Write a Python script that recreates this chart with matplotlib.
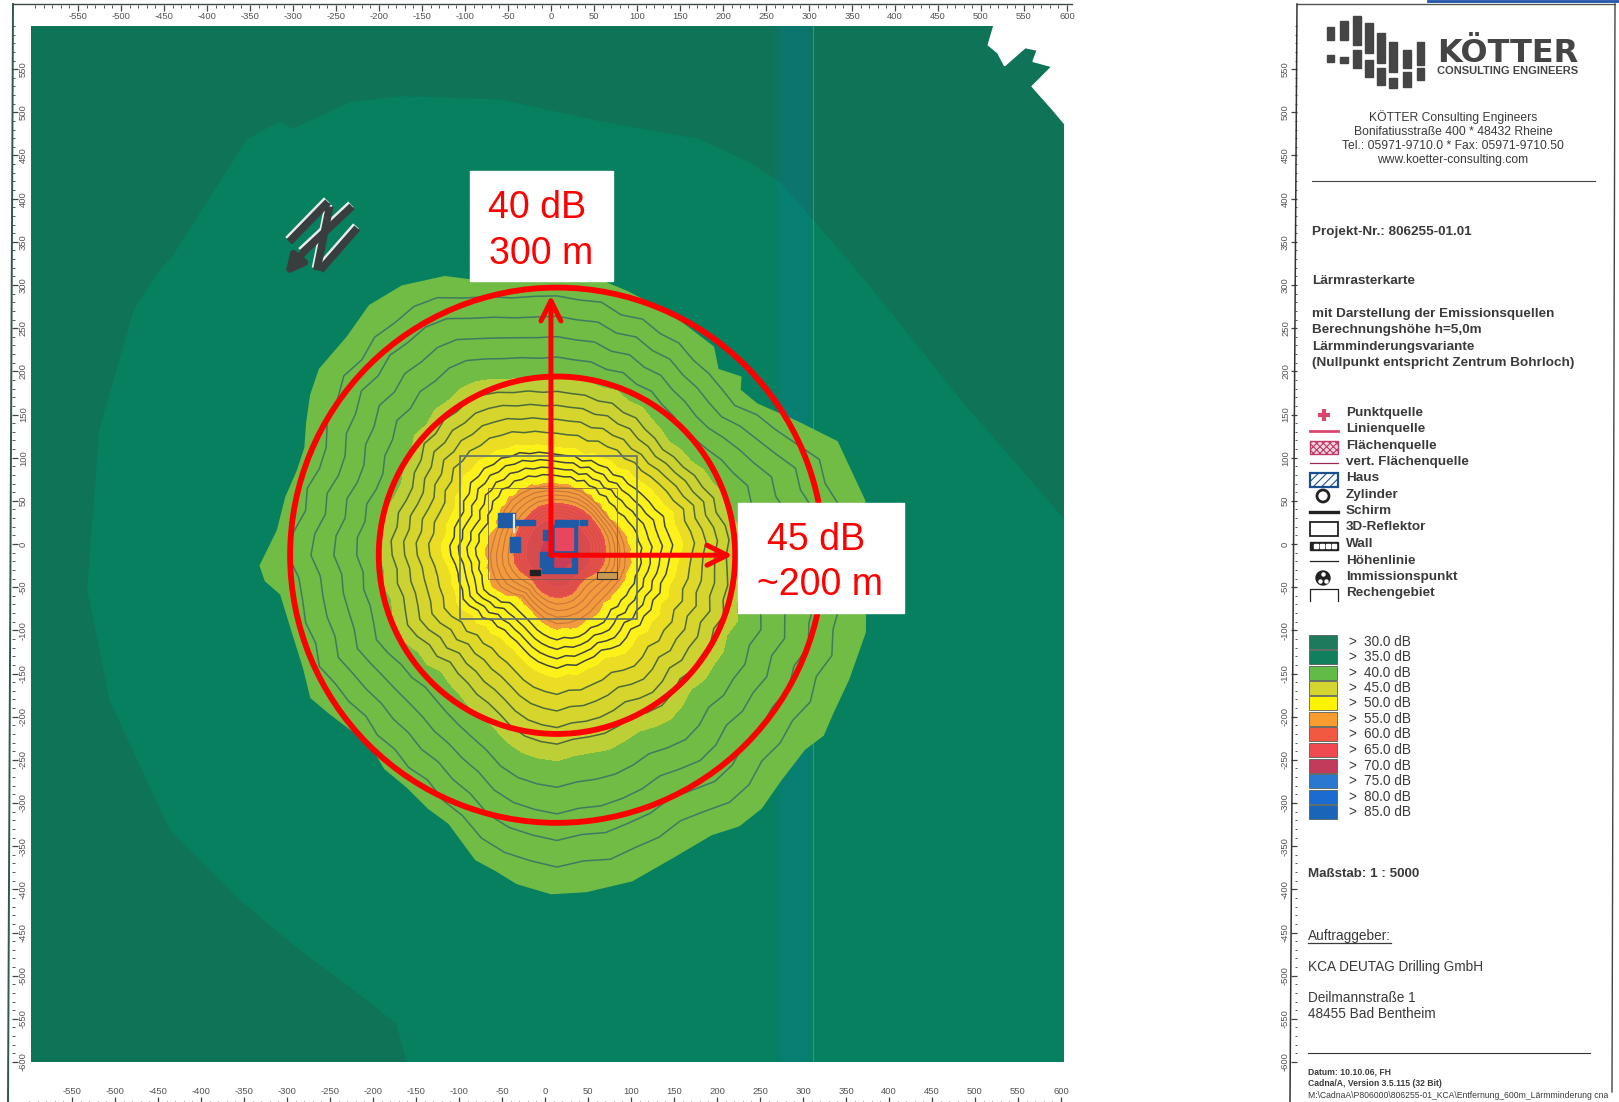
"""
Noise grid map (Laermrasterkarte) with the Koetter title panel on the right.
"""
import matplotlib
matplotlib.use('Agg')
import matplotlib.pyplot as plt
import numpy as np
from matplotlib.patches import Circle, Polygon, Rectangle

plt.rcParams['font.family'] = 'Liberation Sans'
plt.rcParams['axes.unicode_minus'] = False
plt.rcParams['hatch.linewidth'] = 0.8

W, H = 1619, 1102

# level radii around the source, metres, one value every 5 degrees (0 = east, ccw)
fine_angles = [i * 5 for i in range(72)]
r40 = [362, 358, 363, 352, 354, 333, 316, 307, 290, 293, 296, 297, 305, 305, 313, 310, 321, 320,
       324, 325, 326, 335, 342, 356, 360, 356, 357, 347, 350, 338, 334, 320, 317, 324, 320, 332,
       339, 326, 324, 328, 322, 329, 321, 320, 313, 321, 318, 326, 325, 340, 348, 368, 379, 385,
       392, 386, 389, 380, 377, 368, 371, 379, 377, 366, 367, 362, 369, 361, 369, 361, 363, 356]
r45 = [210, 214, 212, 204, 206, 199, 197, 190, 189, 185, 189, 192, 198, 197, 203, 201, 204, 204,
       206, 205, 209, 211, 217, 222, 223, 219, 220, 214, 216, 207, 205, 199, 200, 205, 203, 208,
       206, 201, 204, 199, 203, 207, 203, 196, 197, 190, 194, 197, 203, 206, 213, 224, 232, 236,
       238, 233, 232, 233, 229, 225, 229, 231, 227, 220, 224, 222, 223, 218, 223, 216, 217, 213]
r50 = [143, 147, 144, 141, 144, 137, 135, 133, 130, 127, 128, 123, 126, 124, 125, 121, 125, 124,
       125, 127, 130, 131, 136, 136, 140, 139, 142, 140, 142, 135, 136, 130, 131, 133, 131, 135,
       133, 128, 125, 127, 125, 129, 126, 120, 122, 116, 118, 115, 118, 120, 125, 131, 136, 139,
       142, 138, 140, 136, 135, 131, 135, 138, 136, 132, 137, 134, 137, 133, 138, 135, 139, 140]
r55 = [85, 87, 84, 85, 82, 80, 79, 75, 77, 76, 79, 77, 81, 80, 84, 81, 84, 83,
       84, 85, 86, 85, 88, 87, 89, 86, 89, 85, 86, 82, 82, 78, 81, 84, 82, 85,
       84, 81, 84, 81, 84, 85, 82, 78, 75, 68, 67, 69, 70, 72, 75, 79, 82, 85,
       87, 85, 87, 88, 86, 83, 84, 84, 81, 78, 81, 80, 82, 83, 85, 84, 86, 88]

# inner levels, one value every 10 degrees
angles = [0, 10, 20, 30, 40, 50, 60, 70, 80, 90, 100, 110, 120, 130, 140, 150, 160, 170,
          180, 190, 200, 210, 220, 230, 240, 250, 260, 270, 280, 290, 300, 310, 320, 330, 340, 350]
r55_inner = [85, 84, 82, 79, 77, 79, 81, 84, 84, 84, 86, 88, 89, 89, 86, 82, 81, 82,
             84, 84, 84, 82, 75, 67, 70, 75, 82, 87, 87, 86, 84, 81, 81, 82, 85, 86]
r60 = [56, 57, 58, 58, 58, 59, 60, 60, 60, 60, 60, 60, 58, 56, 55, 53, 52, 50,
       50, 50, 47, 44, 41, 41, 44, 46, 48, 49, 49, 48, 45, 42, 42, 46, 52, 55]
r65 = [38, 39, 40, 40, 40, 41, 42, 42, 42, 42, 41, 41, 40, 39, 38, 37, 36, 35,
       35, 35, 33, 31, 30, 30, 31, 33, 35, 36, 36, 35, 33, 31, 31, 33, 36, 38]
r70 = [20, 21, 21, 21, 22, 22, 23, 23, 23, 22, 22, 22, 21, 21, 20, 20, 19, 19,
       19, 19, 18, 17, 17, 17, 18, 18, 19, 20, 20, 19, 18, 17, 17, 18, 19, 20]
r75 = [4, 4, 4, 4, 4, 4, 4, 4, 4, 4, 4, 4, 4, 4, 4, 4, 4, 4,
       4, 4, 4, 4, 4, 4, 4, 4, 4, 4, 4, 4, 4, 4, 4, 4, 4, 4]
outer_levels = [40, 45, 50, 55]
inner_levels = [55, 60, 65, 70, 75]

# finer read of the rough outer edge of the 40 dB area
edge_angle = [5, 10, 22, 29, 37, 42, 44, 46, 49, 53, 65, 75, 80, 90, 105, 112, 120, 127, 134, 142,
              147, 152, 157, 162, 168, 175, 182, 185, 188, 196, 204, 210, 215, 221, 226, 231, 237,
              243, 248, 255, 259, 263, 269, 275, 283, 291, 299, 304, 309, 315, 322, 326, 330, 337,
              346, 352, 358]
edge_r = [362, 363, 351, 319, 291, 286, 297, 292, 285, 302, 309, 316, 321, 324, 328, 348, 360, 362,
          351, 350, 341, 329, 318, 317, 322, 326, 345, 340, 324, 320, 322, 330, 321, 312, 309, 318,
          320, 329, 335, 365, 372, 383, 392, 391, 387, 375, 370, 378, 377, 368, 365, 373, 369, 368,
          369, 362, 362]

# 35 dB area outline, metres
teal_x = [-163, -175, -229, -287, -357, -438, -508, -534, -520, -480, -450, -435, -388, -349, -311,
          -296, -229, -171, -55, 61, 177, 235, 270, 348, 398, 479, 600, 600]
teal_y = [-600, -555, -513, -470, -412, -331, -181, -53, 132, 271, 317, 333, 407, 468, 489,
          480, 511, 518, 514, 489, 468, 441, 418, 329, 268, 167, 28, -600]

# cut-out corner of the map, metres
corner_x = [522, 512, 523, 531, 555, 569, 564, 586, 563, 587, 603, 612, 612]
corner_y = [612, 578, 569, 554, 575, 572, 559, 553, 530, 503, 484, 484, 612]

# buildings around the drill site, metres
building_x = [-57, -38, -44, 5, -6, 28, -5, -9, 9, 38]
building_y = [20, 22, -9, -9, -34, -28, 5, -27, 22, 22]
building_w = [19, 23, 12, 29, 40, 6, 6, 15, 26, 8]
building_h = [16, 6, 17, 31, 6, 19, 11, 18, 6, 6]
pad_x, pad_y, pad_w, pad_h = 9, -7, 21, 26
area_x, area_y, area_w, area_h = -102, -87, 206, 189
inner_x, inner_y, inner_w, inner_h = -69, -40, 150, 105
speck_x, speck_y, speck_w, speck_h = -20, -36, 11, 6
shed_x, shed_y, shed_w, shed_h = 57, -40, 24, 8

# north arrow strokes, metres
north_x = [[-255, -300], [-227, -285], [-221, -264], [-253, -268]]
north_y = [[396, 350], [391, 337], [366, 317], [391, 317]]
north_tip_x, north_tip_y = -307, 309

circle_x, circle_y = 11, -13
circle_radii = [310, 207]
arrow_x, arrow_y = 4, -13
arrow_up_y, arrow_right_x = 288, 215

gradient_levels = [45, 46, 47, 48, 49, 50, 55]
gradient_colors = ['#bccf36', '#cbd232', '#d6d52d', '#e0d829', '#eadd23', '#fdf11a']
inner_colors = ['#f07048', '#e8504e', '#d84a52', '#c93c58']
orange = '#f19a3e'
edge_color, teal_color, base_color = '#70bc45', '#07805f', '#0f7358'

legend_values = ['30.0', '35.0', '40.0', '45.0', '50.0', '55.0', '60.0', '65.0', '70.0', '75.0', '80.0', '85.0']
legend_colors = ['#1d7a5c', '#0f7f5e', '#62bb46', '#d4d530', '#fff200', '#f99d31',
                 '#f15a40', '#ee4a50', '#c23b5b', '#2a78d0', '#1c6bd0', '#1b65b8']
symbol_labels = ['Punktquelle', 'Linienquelle', 'Flächenquelle', 'vert. Flächenquelle', 'Haus', 'Zylinder',
                 'Schirm', '3D-Reflektor', 'Wall', 'Höhenlinie', 'Immissionspunkt', 'Rechengebiet']
x_ruler_ticks = list(range(-550, 601, 50))
y_ruler_ticks = list(range(-600, 551, 50))
ruler_minor = list(range(-600, 601, 10))
logo_segments = [(110, 80, 120), (110, 165, 185), (150, 62, 120), (150, 170, 190),
                 (190, 48, 135), (190, 150, 205), (225, 70, 160), (225, 180, 230),
                 (262, 100, 190), (262, 205, 255), (298, 125, 215), (298, 235, 265),
                 (340, 150, 205), (340, 215, 262), (380, 125, 195), (380, 205, 240)]


def px_axes(fig, x0, y0, x1, y1, **kw):
    # axes from pixel box, y measured from the top of the picture
    return fig.add_axes([x0 / W, 1 - y1 / H, (x1 - x0) / W, (y1 - y0) / H], **kw)


def closed_polar(theta_deg, radii):
    a = np.radians(list(theta_deg) + [theta_deg[0] + 360])
    r = np.array(list(radii) + [radii[0]], dtype=float)
    return circle_x + r * np.cos(a), circle_y + r * np.sin(a)


def polar_mesh(theta_deg, rows, levels):
    rows = np.array(rows, dtype=float)
    rows = np.column_stack([rows, rows[:, 0]])
    a = np.radians(list(theta_deg) + [360])
    X = circle_x + rows * np.cos(a)
    Y = circle_y + rows * np.sin(a)
    Z = np.repeat(np.array(levels, dtype=float)[:, None], len(a), axis=1)
    return X, Y, Z


def draw_map(fig):
    ax = px_axes(fig, 31, 26, 1064, 1062)
    ax.set_xlim(-600, 600)
    ax.set_ylim(-600, 600)
    ax.axis('off')
    ax.add_patch(Rectangle((-600, -600), 1200, 1200, color=base_color, zorder=0))
    ax.add_patch(Polygon(np.column_stack([teal_x, teal_y]), color=teal_color, zorder=1))
    # crease of the scanned sheet
    for x0, x1 in [(262, 310), (268, 306), (274, 300)]:
        ax.axvspan(x0, x1, color='#0b7f92', alpha=0.16, lw=0, zorder=1.5)
    ax.axvline(309, color='#6fb3a0', lw=0.8, alpha=0.45, zorder=1.6)

    ex, ey = closed_polar(edge_angle, edge_r)
    ax.fill(ex, ey, color=edge_color, zorder=2)

    ox, oy = closed_polar(fine_angles, r55)
    ax.fill(ox, oy, color=orange, zorder=3)
    X, Y, Z = polar_mesh(fine_angles, [r40, r45, r50, r55], outer_levels)
    ax.contourf(X, Y, Z, levels=gradient_levels, colors=gradient_colors, zorder=3.1)
    IX, IY, IZ = polar_mesh(angles, [r55_inner, r60, r65, r70, r75], inner_levels)
    ax.contourf(IX, IY, IZ, levels=[60, 65, 70, 75], colors=inner_colors[1:], zorder=3.2)
    ax.contour(X, Y, Z, levels=[41, 42, 43, 44], colors='#3f7a62', linewidths=1.1, zorder=4)
    ax.contour(X, Y, Z, levels=[46, 47, 48, 49], colors='#4c6a3c', linewidths=1.1, zorder=4)
    ax.contour(X, Y, Z, levels=[51, 52, 53, 54], colors='#3f4440', linewidths=1.1, zorder=4)
    ax.contour(IX, IY, IZ, levels=[56, 57, 58, 59], colors='#c8763a', linewidths=0.8, zorder=4)
    ax.contour(IX, IY, IZ, levels=[61, 62, 63, 64, 66, 67, 68, 69], colors='#d24e42', linewidths=0.6, zorder=4)

    ax.add_patch(Rectangle((area_x, area_y), area_w, area_h, fill=False, ec='#5f6f70', lw=1.2, zorder=5))
    ax.add_patch(Rectangle((inner_x, inner_y), inner_w, inner_h, fill=False, ec='#6a5a50', lw=0.5, zorder=5))
    for x, y, w, h in zip(building_x, building_y, building_w, building_h):
        ax.add_patch(Rectangle((x, y), w, h, color='#1f5aa6', zorder=6))
    ax.add_patch(Rectangle((pad_x, pad_y), pad_w, pad_h, color='#e8465f', zorder=7))
    ax.add_patch(Rectangle((speck_x, speck_y), speck_w, speck_h, color='#222222', zorder=7))
    ax.add_patch(Rectangle((shed_x, shed_y), shed_w, shed_h, fc='#c89a50', ec='#333333', lw=0.8, zorder=7))
    ax.plot([-39, -39], [14, 34], color='#dfe8f0', lw=1.6, zorder=7)

    ax.add_patch(Polygon(np.column_stack([corner_x, corner_y]), color='white', zorder=8, clip_on=False))

    # north arrow
    for sx, sy in zip(north_x, north_y):
        ax.plot(np.array(sx) - 1.5, np.array(sy) + 2.5, color='#e8eeee', lw=5.5, solid_capstyle='butt', zorder=8)
    for sx, sy in zip(north_x, north_y):
        ax.plot(sx, sy, color='#3a3d3d', lw=5.5, solid_capstyle='butt', zorder=9)
    ax.annotate('', xy=(north_tip_x, north_tip_y), xytext=(north_x[1][1] + 6, north_y[1][1] + 6),
                arrowprops=dict(arrowstyle='-|>', color='#3a3d3d', lw=5, mutation_scale=26), zorder=9)

    # red overlay
    for radius in circle_radii:
        ax.add_patch(Circle((circle_x, circle_y), radius, fill=False, ec='#ff0000', lw=4.2, zorder=10))
    ax.annotate('', xy=(arrow_x, arrow_up_y), xytext=(arrow_x, arrow_y),
                arrowprops=dict(arrowstyle='->', color='#ff0000', lw=3.6, mutation_scale=36,
                                shrinkA=0, shrinkB=0), zorder=11)
    ax.annotate('', xy=(arrow_right_x, arrow_y), xytext=(arrow_x, arrow_y),
                arrowprops=dict(arrowstyle='->', color='#ff0000', lw=3.6, mutation_scale=36,
                                shrinkA=0, shrinkB=0), zorder=11)


def style_ruler(ax, axis, side, rotation=0):
    ax.patch.set_visible(False)
    for s in ax.spines.values():
        s.set_visible(False)
    if axis == 'x':
        ax.set_xlim(-600, 600)
        ax.set_xticks(x_ruler_ticks)
        ax.set_xticks(ruler_minor, minor=True)
        ax.set_yticks([])
    else:
        ax.set_ylim(-600, 600)
        ax.set_yticks(y_ruler_ticks)
        ax.set_yticks(ruler_minor, minor=True)
        ax.set_xticks([])
    target = ax.xaxis if axis == 'x' else ax.yaxis
    target.set_ticks_position(side)
    target.set_label_position(side)
    ax.tick_params(axis=axis, which='major', length=4, width=0.9, pad=1, labelsize=6.8,
                   color='#444444', labelcolor='#555555', labelrotation=rotation)
    ax.tick_params(axis=axis, which='minor', length=1.8, width=0.7, color='#555555')
    if axis == 'y':
        for t in ax.get_yticklabels():
            t.set_verticalalignment('center')


def draw_rulers(fig):
    style_ruler(px_axes(fig, 35, 4, 1067, 5), 'x', 'bottom')
    style_ruler(px_axes(fig, 29, 1103, 1061, 1104), 'x', 'top')
    style_ruler(px_axes(fig, 11, 26, 12, 1062), 'y', 'right', rotation=90)
    style_ruler(px_axes(fig, 1297, 26, 1298, 1062), 'y', 'left', rotation=90)


def draw_panel(ov):
    # frame lines of the sheet
    ov.plot([1428, 1619], [1, 1], color='#2255aa', lw=2)
    ov.plot([13, 1072], [4, 4], color='#3c4a48', lw=1)
    ov.plot([13, 8], [4, 1102], color='#2c5a50', lw=1.4)
    ov.plot([1297, 1615], [4, 4], color='#555555', lw=1)
    ov.plot([1297, 1290], [4, 1102], color='#333333', lw=1.1)
    ov.plot([1615, 1612], [4, 1092], color='#444444', lw=1)

    for x, y0, y1 in logo_segments:
        ov.add_patch(Rectangle((1290 + x / 3, y0 / 3), 7.5, (y1 - y0) / 3, color='#454545'))
    ov.text(1437, 53, 'KÖTTER', family='DejaVu Sans', fontsize=23, fontweight='bold',
            color='#454545', va='center')
    ov.text(1437, 71, 'CONSULTING ENGINEERS', fontsize=8, fontweight='bold', color='#454545', va='center')

    tc = '#3a3a3a'
    for y, s in zip([117, 132, 146, 160], ['KÖTTER Consulting Engineers', 'Bonifatiusstraße 400 * 48432 Rheine',
                                           'Tel.: 05971-9710.0 * Fax: 05971-9710.50', 'www.koetter-consulting.com']):
        ov.text(1453, y, s, fontsize=8.7, color=tc, ha='center', va='center')
    ov.plot([1312, 1595], [181, 181], color='#444444', lw=0.8)

    for y, s in zip([232, 281, 314, 330, 347, 363],
                    ['Projekt-Nr.: 806255-01.01', 'Lärmrasterkarte', 'mit Darstellung der Emissionsquellen',
                     'Berechnungshöhe h=5,0m', 'Lärmminderungsvariante', '(Nullpunkt entspricht Zentrum Bohrloch)']):
        ov.text(1312, y, s, fontsize=9.7, fontweight='bold', color=tc, va='center')

    ys = [413, 429, 446, 462, 478, 495, 511, 527, 544, 561, 577, 593]
    for y, s in zip(ys, symbol_labels):
        ov.text(1346, y, s, fontsize=9.7, fontweight='bold', color=tc, va='center')

    pink, dark = '#d9476e', '#222222'
    ov.plot([1324], [415], marker='+', color=pink, ms=8, mew=3)
    ov.plot([1310, 1338], [431, 431], color=pink, lw=2)
    ov.add_patch(Rectangle((1310, 441), 28, 13, fc='#f3d5dc', ec='#c0396b', hatch='xxxxx', lw=1))
    ov.plot([1310, 1338], [463, 463], color='#9b2a4f', lw=0.9)
    ov.add_patch(Rectangle((1310, 473), 28, 14, fc='white', ec='#1a4f8f', hatch='////', lw=1.6))
    ov.add_patch(Circle((1323, 496), 6, fill=False, ec=dark, lw=2))
    ov.plot([1310, 1338], [512, 512], color=dark, lw=2.4)
    ov.add_patch(Rectangle((1310, 522), 28, 14, fill=False, ec=dark, lw=1.3))
    ov.add_patch(Rectangle((1310, 542), 28, 8, color=dark))
    ov.plot([1316, 1322, 1328, 1334], [546, 546, 546, 546], ls='', marker='s', ms=2.3, color='white')
    ov.plot([1310, 1338], [561, 561], color=dark, lw=0.9)
    ov.add_patch(Circle((1323, 578), 7, color=dark))
    ov.plot([1323, 1320, 1326], [574, 581, 581], ls='', marker='o', ms=2.2, color='white')
    ov.plot([1310, 1310, 1338, 1338], [601, 589, 589, 601], color=dark, lw=0.9)

    ys = [642, 657, 673, 688, 703, 719, 734, 750, 766, 781, 797, 812]
    for y, val, c in zip(ys, legend_values, legend_colors):
        ov.add_patch(Rectangle((1309, y - 7), 28, 14, fc=c, ec='#55605a', lw=0.6))
        ov.text(1348, y, '>', fontsize=9.8, color=tc, va='center')
        ov.text(1364, y, f'{val} dB', fontsize=9.8, color=tc, va='center')

    ov.text(1308, 874, 'Maßstab: 1 : 5000', fontsize=9.6, fontweight='bold', color=tc, va='center')
    ov.text(1308, 936, 'Auftraggeber:', fontsize=9.8, color=tc, va='center')
    ov.plot([1308, 1391], [943, 943], color=tc, lw=0.9)
    ov.text(1308, 967, 'KCA DEUTAG Drilling GmbH', fontsize=9.8, color=tc, va='center')
    ov.text(1308, 998, 'Deilmannstraße 1', fontsize=9.8, color=tc, va='center')
    ov.text(1308, 1014, '48455 Bad Bentheim', fontsize=9.8, color=tc, va='center')
    ov.plot([1308, 1590], [1053, 1053], color='#333333', lw=0.8)
    ov.text(1308, 1072, 'Datum: 10.10.06, FH', fontsize=6.2, fontweight='bold', color=tc, va='center')
    ov.text(1308, 1084, 'Cadna/A, Version 3.5.115 (32 Bit)', fontsize=6.2, fontweight='bold', color=tc, va='center')
    ov.text(1308, 1096, r'M:\CadnaA\P806000\806255-01_KCA\Entfernung_600m_Lärmminderung cna',
            fontsize=6.2, color=tc, va='center', clip_on=True)


def draw_callouts(ov):
    ov.add_patch(Rectangle((470, 171), 143, 110, color='white', zorder=20))
    ov.text(537, 208, '40 dB', fontsize=27, color='#ff0000', ha='center', va='center', zorder=21)
    ov.text(541, 254, '300 m', fontsize=27, color='#ff0000', ha='center', va='center', zorder=21)
    ov.add_patch(Rectangle((738, 503), 166, 110, color='white', zorder=20))
    ov.text(816, 540, '45 dB', fontsize=27, color='#ff0000', ha='center', va='center', zorder=21)
    ov.text(820, 585, '~200 m', fontsize=27, color='#ff0000', ha='center', va='center', zorder=21)


def main():
    fig = plt.figure(figsize=(W / 100, H / 100), dpi=100, facecolor='white')
    draw_map(fig)
    draw_rulers(fig)
    ov = fig.add_axes([0, 0, 1, 1], zorder=10)
    ov.set_xlim(0, W)
    ov.set_ylim(H, 0)
    ov.axis('off')
    draw_panel(ov)
    draw_callouts(ov)
    fig.savefig('out.png', dpi=100)
    plt.close(fig)


if __name__ == '__main__':
    main()
